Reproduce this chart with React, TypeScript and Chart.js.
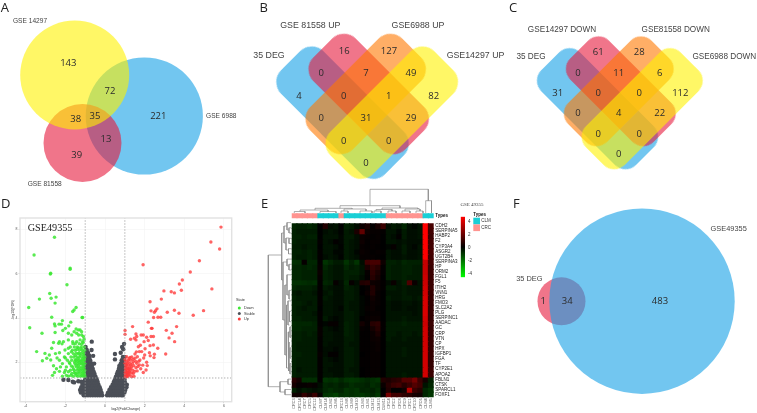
import React, { useEffect, useRef } from "react";
import { Chart, registerables } from "chart.js";
Chart.register(...registerables);

/* ---------- Venn values ---------- */
const vennACounts = [143, 72, 221, 38, 35, 13, 39];
const vennBCounts = [16, 127, 0, 7, 49, 4, 0, 1, 82, 0, 31, 29, 0, 0, 0];
const vennCCounts = [61, 28, 0, 11, 6, 31, 0, 0, 112, 0, 4, 22, 0, 0, 0];
const vennFCounts = [1, 34, 483];
const vennALabels = ["GSE 14297", "GSE 6988", "GSE 81558"];
const vennBLabels = ["GSE 81558 UP", "GSE6988 UP", "35 DEG", "GSE14297 UP"];
const vennCLabels = ["GSE14297 DOWN", "GSE81558 DOWN", "35 DEG", "GSE6988 DOWN"];
const vennFLabels = ["GSE49355", "35 DEG"];

/* ---------- Volcano values: [log2FC, -log10FDR] ---------- */
const volcanoUp: number[][] = [
  [5.85,8.11],[5.34,7.44],[5.78,7.12],[4.76,6.59],[1.92,6.41],[4.3,6.08],[3.9,5.72],[3.75,5.54],[3.85,5.26],[5.39,5.32],
  [2.97,5.23],[3.34,5.19],[3.5,5.14],[2.84,4.86],[2.27,4.74],[4.97,4.34],[4.45,4.13],[3.5,4.36],[3.14,4.27],[3.73,4.22],
  [2.32,4.33],[2.62,4.42],[2.55,4.34],[2.49,4.27],[2.67,4.04],[2.81,4.04],[2.45,4.03],[2.18,3.82],[3.61,3.62],[3.09,3.45],
  [3.38,3.32],[3.23,3.11],[3.51,2.94],[3.06,2.38],[1.01,3.44],[1.01,3.27],[1.39,3.62],[2.34,3.54],[2.37,3.54],[1.93,3.24],
  [1.82,3.24],[1.56,3.29],[1.6,3.17],[1.48,3.09],[1.29,3.05],[1.56,3.02],[2.1,3.14],[2.32,3.17],[2.44,3.17],[2.18,2.99],
  [1.97,2.94],[2.27,2.76],[2.44,2.79],[2.66,2.64],[2.49,2.37],[2.47,2.22],[2.1,2.01],[2.13,1.86],[2.07,1.66],[1.93,1.55],
  [1.68,2.71],[1.73,2.49],[1.85,2.49],[1.51,2.38],[1.26,2.23],[1.09,2.26],[1.01,2.14],[1.26,1.96],[1.43,2.04],[1.51,2.19],
  [1.63,2.26],[1.34,1.81],[1.56,1.76],[1.73,1.89],[1.18,1.73],[1.06,1.66],[1.13,1.55],[1.26,1.58],[1.06,1.43],[1.18,1.39],
  [1.34,1.36],[1.01,1.96],[1.09,1.89],[1.03,1.73],[1.18,2.11],[1.43,1.51],[1.6,1.96],[1.76,2.11],[1.05,1.8],[1.12,1.95],
  [1.2,1.85],[1.03,1.6],[1.1,1.48],[1.02,1.35],[1.25,1.45],[1.15,1.65],[1.4,1.65],[1.05,2.05],[1.3,2.1],[1.45,1.85],
  [1.5,1.6],[1.35,2.25],[1.02,1.5],[1.08,1.38],[1.16,1.47],[1.22,1.6],[1.3,1.72],
  [1.04,1.42],[1.12,1.36],[1.2,1.52],[1.07,1.55],[1.14,1.75],[1.24,1.72],[1.04,1.88],[1.16,2.02],[1.28,1.88],[1.38,1.95],
  [1.22,2.18],[1.42,2.15],[1.55,2.05],[1.66,1.82],[1.36,1.52],[1.46,1.38],[1.62,1.62],[1.8,1.72],[1.9,1.88],[1.95,2.2],
  [1.7,2.05],[1.58,2.48],[1.78,2.78],[2.02,2.62],[2.24,2.44],[2.28,2.3],[2.0,2.34],
];
const volcanoDown: number[][] = [
  [-2.55,7.65],[-3.58,6.85],[-2.74,6.03],[-2.76,5.99],[-1.76,6.26],[-1.76,6.21],[-1.92,5.51],[-2.79,5.11],[-2.47,4.95],[-2.72,4.9],
  [-3.31,4.86],[-2.52,4.68],[-3.85,4.48],[-1.46,4.48],[-1.56,4.37],[-1.63,4.3],[-2.69,4.04],[-1.13,4.03],[-1.16,4.03],[-3.8,3.57],
  [-3.18,3.32],[-2.15,3.89],[-2.55,3.74],[-2.52,3.65],[-2.32,3.73],[-2.2,3.73],[-1.73,3.82],[-1.83,3.65],[-2,3.54],[-1.46,3.51],
  [-1.34,3.47],[-1.26,3.47],[-1.18,3.39],[-1.56,3.39],[-1.43,3.32],[-1.33,3.24],[-1.18,3.24],[-1.09,3.17],[-1.68,3.24],[-1.85,3.32],
  [-2.13,3.44],[-2.52,3.35],[-2.3,2.94],[-2.1,2.94],[-2.34,2.87],[-2.17,2.84],[-1.85,3.02],[-1.63,2.94],[-1.43,2.94],[-1.26,3.02],
  [-1.13,2.94],[-1.06,3.05],[-2.6,2.9],[-2.69,2.64],[-3.45,2.49],[-3.03,2.41],[-2.81,2.34],[-3.16,2.08],[-2.94,2.19],[-2.74,2.11],
  [-2.3,2.44],[-2.02,2.56],[-1.85,2.64],
  [-1.05,2.7],[-1.2,2.7],[-1.4,2.7],[-1.55,2.7],[-1.75,2.7],
  [-1.03,2.55],[-1.15,2.55],[-1.3,2.55],[-1.5,2.55],[-1.65,2.55],
  [-1.08,2.4],[-1.22,2.4],[-1.36,2.4],[-1.6,2.4],[-1.85,2.4],
  [-1.02,2.25],[-1.12,2.25],[-1.28,2.25],[-1.42,2.25],[-1.58,2.25],[-1.72,2.25],[-2.05,2.25],
  [-1.05,2.1],[-1.18,2.1],[-1.32,2.1],[-1.46,2.1],[-1.68,2.1],[-1.9,2.1],[-2.3,2.1],
  [-1.02,1.95],[-1.1,1.95],[-1.24,1.95],[-1.38,1.95],[-1.52,1.95],[-1.78,1.95],[-2.15,1.95],
  [-1.06,1.8],[-1.16,1.8],[-1.3,1.8],[-1.44,1.8],[-1.62,1.8],[-1.95,1.8],
  [-1.03,1.65],[-1.12,1.65],[-1.26,1.65],[-1.4,1.65],[-1.55,1.65],[-1.75,1.65],[-2,1.65],
  [-1.05,1.5],[-1.18,1.5],[-1.32,1.5],[-1.5,1.5],[-1.68,1.5],
  [-1.02,1.38],[-1.1,1.38],[-1.24,1.38],[-1.38,1.38],[-1.6,1.38],[-1.85,1.38],[-2.15,1.38],
  [-1.1,2.9],[-1.3,2.85],[-1.5,2.85],[-1.2,2.62],[-1.42,2.6],[-1.08,2.33],[-1.25,2.32],[-1.5,2.32],[-1.1,2.02],[-1.3,2.02],[-1.46,1.88],[-1.1,1.72],
  [-1.3,1.58],[-1.05,1.58],[-1.18,1.42],[-1.45,1.42],[-1.06,1.44],[-1.55,1.55],[-1.8,2.0],[-2.0,2.2],[-2.45,1.72],[-2.6,1.85],
  [-1.04,1.46],[-1.14,1.56],[-1.22,1.72],[-1.36,1.72],[-1.08,1.88],[-1.18,1.94],[-1.34,1.88],[-1.22,2.06],[-1.4,2.04],[-1.04,2.16],
  [-1.14,2.18],[-1.36,2.18],[-1.5,2.12],[-1.54,2.02],[-1.6,1.7],[-1.7,1.84],[-1.85,1.58],[-1.95,1.42],[-1.72,1.42],[-1.42,1.52],
  [-1.12,2.46],[-1.3,2.42],[-1.45,2.42],[-1.7,2.48],[-1.34,2.66],[-1.18,2.82],[-1.62,2.85],[-2.42,2.2],[-2.55,1.55],[-2.3,1.6],
  [-2.65,1.42],[-2.05,1.55],[-2.25,1.8],[-2.5,2.4],
];
const volcanoStable: number[][] = [
  [-.14,.52],[-.26,.52],[-.38,.52],[-.5,.52],[-.62,.52],[-.74,.52],[-.86,.52],[-.98,.52],[-1.08,.52],
  [-.18,.64],[-.3,.64],[-.42,.64],[-.54,.64],[-.66,.64],[-.78,.64],[-.9,.64],[-1.02,.64],[-1.14,.64],[-1.22,.64],
  [-.22,.76],[-.34,.76],[-.46,.76],[-.58,.76],[-.7,.76],[-.82,.76],[-.94,.76],[-1.06,.76],[-1.18,.76],[-1.26,.76],
  [-.27,.88],[-.39,.88],[-.51,.88],[-.63,.88],[-.75,.88],[-.87,.88],[-.99,.88],[-1.11,.88],[-1.2,.88],
  [-.33,1],[-.45,1],[-.57,1],[-.69,1],[-.81,1],[-.93,1],[-1.05,1],[-1.14,1],
  [-.37,1.12],[-.49,1.12],[-.61,1.12],[-.73,1.12],[-.85,1.12],[-.97,1.12],[-1.08,1.12],
  [-.42,1.24],[-.54,1.24],[-.66,1.24],[-.78,1.24],[-.9,1.24],[-1,1.24],
  [-.48,1.36],[-.6,1.36],[-.72,1.36],[-.84,1.36],[-.96,1.36],
  [-.53,1.48],[-.65,1.48],[-.77,1.48],[-.89,1.48],[-.98,1.48],
  [-.58,1.6],[-.7,1.6],[-.82,1.6],[-.94,1.6],
  [-.62,1.72],[-.74,1.72],[-.86,1.72],[-.97,1.72],
  [-.66,1.84],[-.78,1.84],[-.9,1.84],[-.98,1.84],
  [-.7,1.96],[-.82,1.96],[-.94,1.96],
  [-.74,2.08],[-.86,2.08],[-.96,2.08],
  [-.78,2.2],[-.88,2.2],[-.97,2.2],
  [-.8,2.32],[-.9,2.32],[-.97,2.32],
  [-.86,2.44],[-.95,2.44],[-.92,2.56],[-.68,2.56],[-.98,2.7],[-.67,2.94],[-.6,2.3],[-.55,1.95],
  [-2.1,1.22],[-1.85,1.21],[-1.63,1.13],[-1.56,1.1],[-1.2,1.13],[-1.35,1.15],
  [.1,.52],[.22,.52],[.34,.52],[.46,.52],[.58,.52],[.7,.52],[.82,.52],[.9,.52],
  [.15,.64],[.27,.64],[.39,.64],[.51,.64],[.63,.64],[.75,.64],[.87,.64],[.98,.64],
  [.22,.76],[.34,.76],[.46,.76],[.58,.76],[.7,.76],[.82,.76],[.94,.76],[1.02,.76],
  [.3,.88],[.42,.88],[.54,.88],[.66,.88],[.78,.88],[.9,.88],[1,.88],[1.08,.88],
  [.38,1],[.5,1],[.62,1],[.74,1],[.86,1],[.98,1],[1.1,1],
  [.44,1.12],[.56,1.12],[.68,1.12],[.8,1.12],[.92,1.12],[1,1.12],
  [.5,1.24],[.62,1.24],[.74,1.24],[.86,1.24],[.98,1.24],
  [.55,1.36],[.67,1.36],[.79,1.36],[.91,1.36],[.99,1.36],
  [.6,1.48],[.72,1.48],[.84,1.48],[.96,1.48],
  [.65,1.6],[.77,1.6],[.89,1.6],[.98,1.6],
  [.7,1.72],[.82,1.72],[.94,1.72],
  [.72,1.84],[.86,1.84],[.97,1.84],
  [.8,1.96],[.92,1.96],[.84,2.1],[.95,2.1],[.9,2.25],[.98,2.25],
  [.5,2.38],[.79,2.44],[.86,2.7],[.96,2.84],[.5,2.14],[.92,2.6],
];
const volcanoXTicks = [-4, -2, 0, 2, 4, 6];
const volcanoYTicks = [2, 4, 6, 8];
const volcanoCutX = [-1, 1];
const volcanoCutY = 1.3;
const volcanoStates = ["Down", "Stable", "Up"];

/* ---------- Heat map values ---------- */
const sampleNames = ["CRC3","CRC14","CRC7","CRC5","CRC12","CLM7","CLM14","CLM2","CLM6","CRC13","CLM8","CLM9","CLM10","CLM3","CLM1","CLM12","CLM13","CLM11","CRC4","CRC2","CRC8","CRC9","CRC1","CRC10","CRC6","CLM4","CLM5"];
const geneNames = ["CDH2","SERPINA5","HABP2","F2","CYP3A4","ASGR2","UGT2B4","SERPINA3","HP","ORM2","FGL1","F5","ITIH2","VNN1","HRG","FMO3","SLC2A2","PLG","SERPINC1","AADAC","GC","CRP","VTN","CP","HPX","IGFBP1","FGA","TF","CYP2E1","APOA2","FBLN1","CTSK","SPARCL1","FOXF1"];
const expression: number[][] = [
  [-.6,-.5,-.5,-.6,-.5, 0,.5,-.2,-.3, 0, -.5,-.4,-.2,.2,.4,.05,.35,.9, -.2,-.4,-.3,-.6,-.2,-.1,-.3, 4,1.1],
  [-.5,-.4,-.4,-.4,-.4, 0,-.2,-.3,-.2, -.05, -.4,-.3,.4,1.5,.2,.1,.1,.05, -.3,-.3,-.1,-.4,-.2,-.2,-.3, 4,1],
  [-.5,-.5,-.4,-.5,-.5, 0,-.3,-.3,-.3, -.1, -.4,-.4,-.2,.15,.1,.05,.1,0, -.3,-.2,.05,-.4,-.2,-.2,-.3, 4,.9],
  [-.5,-.4,-.4,-.4,-.4, .05,-.3,-.2,.05, -.1, -.4,-.3,-.2,.2,.05,.1,.1,0, -.3,-.3,-.2,-.3,-.2,-.2,-.2, 4,1],
  [-.4,-.4,-.3,-.4,-.4, 0,-.3,-.3,-.2, -.05, -.4,-.3,-.2,.1,.05,.1,.05,0, -.1,.1,-.2,-.4,-.2,-.1,-.3, 4,1],
  [-.5,-.5,-.4,-.5,-.4, .05,-.3,-.3,-.1, -.1, -.4,-.3,-.1,.15,.1,.05,.1,.05, -.3,-.2,-.2,-.4,-.2,-.2,-.3, 4,1.1],
  [-.5,-.4,-.4,-.5,-.4, .05,-.2,-.3,-.2, -.05, -.4,-.3,-.2,.1,.1,.1,.05,0, -.3,-.2,-.2,-.3,-.2,-.2,-.3, 4,1],
  [-.75,-.7,.1,-.6,-.6, .05,-.8,-.6,-.4, -.4, -.8,-.5,-.8,-.2,1,1.1,1.1,.2, -.5,-.5,-.4,-.6,-.5,-.5,-.5, 3.1,1],
  [-.6,-.6,-.5,-.6,-.5, .1,-.6,-.4,-.3, -.3, -.6,-.4,-.5,-.3,.4,.8,.6,.05, -.5,-.4,-.4,-.5,-.5,-.4,-.4, 3.1,.9],
  [-.6,-.6,-.5,-.5,-.5, .15,-.5,-.4,-.3, -.3, -.5,-.5,-.5,-.3,.1,.7,.4,.05, -.5,-.4,-.4,-.5,-.5,-.4,-.4, 3.1,.9],
  [-.6,-.6,-.5,-.5,-.5, .1,-.5,-.4,-.3, -.3, -.5,-.4,-.4,-.2,.05,.6,.3,0, -.5,-.4,-.4,-.5,-.4,-.4,-.4, 3.2,.9],
  [-.75,-.75,-.7,-.65,-.7, .05,-.6,-.5,.1, -.2, -.6,.1,-.2,.5,.6,.2,.15,.05, -.2,.15,-.3,-.5,1.2,.15,-.3, 3.2,.9],
  [-.6,-.5,-.5,-.5,-.4, .05,-.4,-.3,-.2, -.2, -.5,-.4,-.3,0,.1,.5,.15,.05, -.4,-.4,-.3,-.4,-.3,-.3,-.3, 3.3,.9],
  [-.4,-.3,-.4,-.4,-.3, .05,-.3,-.4,-.2, -.2, -.4,-.4,-.3,0,.15,.5,.1,0, -.3,-.3,-.3,-.4,-.3,-.3,-.3, 3.3,.8],
  [-.5,-.4,-.4,-.4,-.4, .05,-.4,-.3,-.2, -.2, -.4,-.4,-.3,-.1,.05,.25,.1,0, -.4,-.3,-.3,-.4,-.4,-.3,-.4, 3.4,.8],
  [-.5,-.5,-.4,-.3,-.4, .05,-.3,-.3,-.2, -.2, -.4,-.3,-.3,-.1,.05,.15,.1,0, -.3,-.2,-.2,-.3,-.3,-.2,-.3, 3.4,.8],
  [-.5,-.4,-.3,-.4,-.4, 0,-.3,-.3,-.2, -.1, -.4,-.3,-.3,-.1,.1,.15,.05,0, -.3,-.2,-.2,-.3,-.2,-.2,-.3, 3.4,.8],
  [-.5,-.4,-.4,-.4,-.3, .05,-.3,-.3,-.2, -.2, -.4,-.4,-.3,-.1,.05,.1,.1,0, -.3,-.3,-.3,-.3,-.3,-.2,-.3, 3.4,.8],
  [-.5,-.5,-.4,-.4,-.4, .05,-.4,-.2,-.1, -.2, -.4,-.4,-.3,0,.1,.15,.15,0, -.3,-.3,-.3,-.4,-.3,-.3,-.3, 3.3,.8],
  [-.65,-.6,-.6,-.6,-.5, .05,-.1,.1,.1, -.2, -.5,-.4,-.3,.3,.1,.6,.7,.05, -.4,-.4,-.4,-.5,-.4,-.4,-.4, 3.2,.9],
  [-.6,-.6,-.5,-.5,-.5, .1,-.3,-.2,-.1, -.2, -.5,-.4,-.3,.1,.05,.3,.6,.05, -.4,-.4,-.4,-.4,-.4,-.4,-.4, 3.3,.8],
  [-.5,-.5,-.4,-.5,-.4, .1,-.3,-.3,-.2, -.2, -.5,-.4,-.3,.05,.05,.15,.4,0, -.4,-.4,-.3,-.4,-.4,-.3,-.4, 3.3,.8],
  [-.5,-.5,-.4,-.4,-.4, .05,-.3,-.3,-.2, -.2, -.4,-.4,-.3,.05,.05,.15,.2,0, -.4,-.3,-.3,-.4,-.3,-.3,-.3, 3.3,.8],
  [-.5,-.4,-.4,-.4,-.4, .05,-.3,-.2,-.2, -.2, -.4,-.3,-.3,.05,.05,.1,.15,0, -.3,-.3,-.3,-.3,-.3,-.3,-.3, 3.3,.8],
  [-.5,-.4,-.4,-.4,-.4, .05,-.2,-.2,-.1, -.2, -.4,-.4,-.3,.05,.05,.1,.15,0, -.3,-.3,-.3,-.4,-.3,-.3,-.3, 3.3,.8],
  [-.5,-.5,-.4,-.4,-.4, .1,-.2,.05,.05, -.2, -.4,-.4,-.3,0,.05,.1,.1,0, -.3,-.3,-.3,-.4,-.3,-.3,-.3, 3.3,.8],
  [-.5,-.4,-.4,-.4,-.4, .05,-.3,-.2,-.1, -.2, -.4,-.4,-.3,.05,.05,.1,.1,0, -.3,-.3,-.3,-.3,-.3,-.3,-.3, 3.3,.8],
  [-.5,-.4,-.4,-.4,-.4, .05,-.3,-.3,-.2, -.2, -.4,-.4,-.3,.05,.05,.1,.1,0, -.3,-.3,-.3,-.3,-.3,-.3,-.3, 3.3,.8],
  [-.5,-.3,-.4,-.4,-.4, .05,-.3,-.2,-.2, -.2, -.4,-.3,-.3,0,.05,.1,.1,0, -.3,-.3,-.3,-.3,-.3,-.3,-.3, 3.3,.9],
  [-.5,-.4,-.4,-.4,-.4, .05,-.3,-.3,-.2, -.2, -.4,-.4,-.3,0,.05,.1,.1,0, -.3,-.3,-.3,-.4,-.3,-.3,-.3, 3.3,.9],
  [.6,.3,-.7,-.7,-.7, .05,-.8,-.7,-.8, -.6, -.8,-.85,-.8,-.7,-.6,-.7,-.8,.5, .4,.6,.7,1.3,1.3,1.8,.9, .3,-.5],
  [.35,.1,.1,.15,.1, -.2,-.6,-.5,-.6, -.45, -.55,-.7,-.6,-.6,-.5,-.7,-.6,.15, .6,.9,1.05,.6,.9,1.3,1, -.3,-.6],
  [-.5,-.2,-.4,-.3,-.2, -.3,-.6,-.7,-.6, -.55, -.8,-.7,-.8,-.55,-.6,-.5,-.7,0, .5,0,0,.25,2.8,.9,.6, -.6,-.8],
  [.25,.25,.8,.4,.9, .1,-.8,-.85,-1, -.7, -.8,-.7,-.8,-.85,-.7,-.6,-.85,.05, 1.8,1,1,.7,.6,.35,.25, -.6,-.85],
];
const colourBarRange = [-4.6, 4.76];
const colourBarTicks = [-4, -2, 0, 2, 4];
const typeNames = ["CLM", "CRC"];

/* ---------- Styles and layout ---------- */
const BLUE = "rgba(20,160,230,.6)";
const YELLOW = "rgba(255,242,0,.6)";
const RED = "rgba(230,25,60,.6)";
const ORANGE = "rgba(255,120,0,.6)";
const NUM = '9.5px "Open Sans"';
const LETTER = '13px "Open Sans"';
const CYAN_T = "#19CFD6";
const PINK_T = "#FF9490";

const txt = (chart: any, s: any, x: number, y: number, font: string, color = "#333", align: any = "center") => {
  const c = chart.ctx;
  const px = chart.scales.x.getPixelForValue(x);
  const py = chart.scales.y.getPixelForValue(y);
  c.save();
  c.font = font; c.fillStyle = color; c.textAlign = align; c.textBaseline = "middle";
  c.fillText(String(s), px, py);
  c.restore();
};

const pageScales = (l: number, t: number, w: number, h: number) => ({
  x: { type: "linear", display: false, min: l, max: l + w },
  y: { type: "linear", display: false, reverse: true, min: t, max: t + h },
});

const shapeImage = (len: number, wid: number, rad: number, color: string) => {
  const cv = document.createElement("canvas");
  cv.width = Math.round(len); cv.height = Math.round(wid);
  const g = cv.getContext("2d")!;
  g.fillStyle = color;
  g.beginPath();
  g.roundRect(0, 0, cv.width, cv.height, rad);
  g.fill();
  return cv;
};

type Spec = { left: number; top: number; width: number; height: number; blur?: boolean; build: (c: HTMLCanvasElement, s: Spec) => Chart };

const base = { responsive: false, animation: false, events: [], plugins: { legend: { display: false }, tooltip: { enabled: false } } } as any;

const vennChart = (opts: { circles?: number[][]; colours?: string[]; shapes?: any[]; counts: number[]; countPos: number[][]; labels: string[]; labelPos: number[][]; labelFont: string; letter: string; letterPos: number[] }) =>
  (canvas: HTMLCanvasElement, s: Spec) => {
    const datasets: any[] = [];
    (opts.circles || []).forEach((c, i) => datasets.push({ type: "bubble", data: [{ x: c[0], y: c[1], r: c[2] }], backgroundColor: opts.colours![i], borderWidth: 0, clip: false }));
    (opts.shapes || []).forEach((sh) => datasets.push({ type: "scatter", data: [{ x: sh.x, y: sh.y }], pointStyle: shapeImage(sh.l, sh.w, sh.r, sh.c), pointRotation: sh.a, pointRadius: 1, clip: false }));
    return new Chart(canvas, {
      type: "scatter",
      data: { datasets },
      options: { ...base, scales: pageScales(s.left, s.top, s.width, s.height), layout: { padding: 0, autoPadding: false } },
      plugins: [{
        id: "vennText",
        afterDatasetsDraw(chart: any) {
          opts.counts.forEach((n, i) => txt(chart, n, opts.countPos[i][0], opts.countPos[i][1], NUM, "#2b2b2b"));
          opts.labels.forEach((n, i) => txt(chart, n, opts.labelPos[i][0], opts.labelPos[i][1], opts.labelFont, "#444"));
          txt(chart, opts.letter, opts.letterPos[0], opts.letterPos[1], LETTER, "#222", "left");
        },
      }],
    } as any);
  };

const toPts = (a: number[][]) => a.map((p) => ({ x: p[0], y: p[1] }));

const volcano = (canvas: HTMLCanvasElement, s: Spec) => {
  const xMin = -4.29, xMax = 6.39, yMin = 0.23, yMax = 8.52;
  const cut = (pts: any[]) => ({ type: "scatter", data: pts, showLine: true, pointRadius: 0, borderColor: "#9a9a9a", borderWidth: 0.8, borderDash: [1.4, 1.6] });
  return new Chart(canvas, {
    type: "scatter",
    data: {
      datasets: [
        cut([{ x: volcanoCutX[0], y: yMin }, { x: volcanoCutX[0], y: yMax }]),
        cut([{ x: volcanoCutX[1], y: yMin }, { x: volcanoCutX[1], y: yMax }]),
        cut([{ x: xMin, y: volcanoCutY }, { x: xMax, y: volcanoCutY }]),
        { data: toPts(volcanoUp), backgroundColor: "rgba(255,60,60,.8)", pointRadius: 1.7, borderWidth: 0 },
        { data: toPts(volcanoDown), backgroundColor: "rgba(60,232,50,.85)", pointRadius: 1.7, borderWidth: 0 },
        { data: toPts(volcanoStable), backgroundColor: "#4B4F57", pointRadius: 2.2, borderWidth: 0 },
      ],
    },
    options: {
      ...base,
      layout: { padding: { left: 11, top: 218 - s.top, right: 30.3, bottom: 1.5 }, autoPadding: false },
      scales: {
        x: {
          type: "linear", min: xMin, max: xMax,
          afterBuildTicks: (a: any) => { a.ticks = volcanoXTicks.map((value) => ({ value })); },
          afterFit: (a: any) => { a.height = 9.8; },
          grid: { color: "#f1f1f1", lineWidth: 0.5, tickLength: 1.5, tickColor: "#aaa" },
          border: { display: false },
          ticks: { font: { size: 3.5 }, color: "#555", padding: 1, maxRotation: 0, autoSkip: false },
          title: { display: true, text: "log2(FoldChange)", font: { size: 3.6 }, color: "#333", padding: 0 },
        },
        y: {
          type: "linear", min: yMin, max: yMax,
          afterBuildTicks: (a: any) => { a.ticks = volcanoYTicks.map((value) => ({ value })); },
          afterFit: (a: any) => { a.width = 9; },
          grid: { color: "#f1f1f1", lineWidth: 0.5, tickLength: 1.5, tickColor: "#aaa" },
          border: { display: false },
          ticks: { font: { size: 3.5 }, color: "#555", padding: 1, autoSkip: false },
          title: { display: true, text: "-log10(FDR)", font: { size: 3.6 }, color: "#333", padding: 0 },
        },
      },
    },
    plugins: [{
      id: "volcanoDeco",
      afterDatasetsDraw(chart: any) {
        const c = chart.ctx, a = chart.chartArea;
        c.save(); c.strokeStyle = "#e2e2e2"; c.lineWidth = 1.4; c.strokeRect(a.left, a.top, a.right - a.left, a.bottom - a.top);
        c.font = '10.2px "Liberation Serif"'; c.fillStyle = "#222"; c.textBaseline = "middle"; c.textAlign = "left";
        c.fillText("GSE49355", 27.7, 228.5 - s.top);
        c.font = "3.8px Liberation Sans"; c.fillStyle = "#333";
        c.fillText("State", 236, 300 - s.top);
        const col = ["#3CE832", "#4B4F57", "#FF3C3C"];
        volcanoStates.forEach((st, i) => {
          const y = 308 + i * 5.5 - s.top;
          c.fillStyle = col[i]; c.beginPath(); c.arc(239.3, y, 1.5, 0, 7); c.fill();
          c.fillStyle = "#333"; c.fillText(st, 244, y);
        });
        c.font = '13px "Open Sans"'; c.fillStyle = "#222"; c.fillText("D", 1, 204 - s.top);
        c.restore();
      },
    }],
  } as any);
};

const heatColour = (v: number) => {
  const m = Math.min(255, Math.round((Math.abs(v) / 4) * 255));
  return v >= 0 ? `rgb(${m},0,0)` : `rgb(0,${m},0)`;
};

const heatmap = (canvas: HTMLCanvasElement, s: Spec) =>
  new Chart(canvas, {
    type: "bar",
    data: {
      labels: sampleNames,
      datasets: expression.map((row, i) => ({
        label: geneNames[i],
        data: row.map(() => 1),
        backgroundColor: row.map(heatColour),
        borderWidth: 0, barPercentage: 1, categoryPercentage: 1, inflateAmount: 0.6,
      })),
    },
    options: {
      ...base,
      layout: { padding: { left: 0.7, top: 1 }, autoPadding: false },
      scales: {
        x: {
          stacked: true, grid: { display: false, drawTicks: false }, border: { display: false },
          afterFit: (a: any) => { a.height = 15.7; },
          ticks: { autoSkip: false, minRotation: 90, maxRotation: 90, font: { size: 3.8 }, color: "#555", padding: 1 },
        },
        y: {
          stacked: true, position: "right", reverse: true, min: 0, max: geneNames.length,
          grid: { display: false, drawTicks: false }, border: { display: false },
          afterFit: (a: any) => { a.width = s.width - 0.7 - 142; },
          afterBuildTicks: (a: any) => { a.ticks = geneNames.map((_, i) => ({ value: i + 0.5 })); },
          ticks: { autoSkip: false, font: { size: 4.5 }, color: "#222", padding: 1.6, callback: (v: number) => geneNames[Math.floor(v)] },
        },
      },
    },
  } as any);

const annotation = (canvas: HTMLCanvasElement, s: Spec) =>
  new Chart(canvas, {
    type: "bar",
    data: {
      labels: sampleNames,
      datasets: [{
        data: sampleNames.map(() => 1),
        backgroundColor: sampleNames.map((n) => (n.startsWith(typeNames[0]) ? CYAN_T : PINK_T)),
        borderWidth: 0, barPercentage: 1, categoryPercentage: 1, inflateAmount: 0.6,
      }],
    },
    options: {
      ...base,
      layout: { padding: { left: 0.7, top: 1.3, right: s.width - 142.7, bottom: 0.7 }, autoPadding: false },
      scales: { x: { display: false }, y: { display: false, min: 0, max: 1 } },
    },
  } as any);

const colourBar = (canvas: HTMLCanvasElement, s: Spec) =>
  new Chart(canvas, {
    type: "bar",
    data: {
      labels: [""],
      datasets: [{
        data: [colourBarRange],
        barPercentage: 1, categoryPercentage: 1, borderWidth: 0, borderSkipped: false,
        backgroundColor: (ctx: any) => {
          const a = ctx.chart.chartArea;
          if (!a) return "#000";
          const g = ctx.chart.ctx.createLinearGradient(0, a.top, 0, a.bottom);
          g.addColorStop(0, "#ff0000");
          g.addColorStop(0.5, "#000000");
          g.addColorStop(1, "#00ff00");
          return g;
        },
      }],
    },
    options: {
      ...base,
      layout: { padding: { left: 5.7, top: 2.3, bottom: 3 }, autoPadding: false },
      scales: {
        x: { display: false },
        y: {
          position: "right", min: colourBarRange[0], max: colourBarRange[1],
          grid: { display: false, drawTicks: false }, border: { display: false },
          afterFit: (a: any) => { a.width = s.width - 5.7 - 4.3; },
          afterBuildTicks: (a: any) => { a.ticks = colourBarTicks.map((value) => ({ value })); },
          ticks: { font: { size: 4.5 }, color: "#333", padding: 3 },
        },
      },
    },
  } as any);

/* dendrogram brackets: left tree [xv, ya, yb, xa, xb], top tree [yh, xa, xb, ya, yb] */
const leftTree = [
  [268.3,255,386.7,281.7,280],[280,381.7,392,288,285],[288,379.1,384.3,291,291],[285,389.5,394.7,291,291],
  [281.7,233,280,284,283],[284,226,243,287,286],[287,222.6,230,291,289],[289,227.8,233,291,291],[286,238,250,289,288.5],
  [289,238.3,243.5,291,291],[288.5,248.7,253.9,291,291],[283,262,320,287,285],[287,259.1,266,291,289],[289,264.3,270,291,291],
  [285,285,355,287,286.5],[287,274.8,295,291,289],[289,290.4,299,291,290],[286.5,305,368,288,288],[288,300.9,325,291,289.5],
  [289.5,311.3,321.7,291,291],[288,332,371,290,289],[290,326.9,337.4,291,291],[289,342.6,371,290,290],[290,347.8,358.2,291,291],[290,363.5,373.9,291,291],
];
const topTree = [
  [189.3,370,428.3,205.7,200.7],[200.7,425.7,431.5,213,213],[205.7,340,400,208.3,208],[208.3,315,352,210,209],[210,300,328,211.5,211.5],
  [211.5,294.3,305,213,213],[211.5,320,336,213,213],[209,344,366,211,211],[211,341,348,213,213],[211,360,372,213,213],
  [208,382,418,209.5,209],[209.5,376,392,211,211],[211,374,381,213,213],[211,388,396,213,213],[209,405,420,211,211],[211,402,410,213,213],[211,416,423,213,213],
];

const overlayE = (canvas: HTMLCanvasElement, s: Spec) => {
  const gap = { x: NaN, y: NaN };
  const lp: any[] = [], tp: any[] = [];
  leftTree.forEach(([xv, ya, yb, xa, xb]) => lp.push({ x: xa, y: ya }, { x: xv, y: ya }, { x: xv, y: yb }, { x: xb, y: yb }, gap));
  topTree.forEach(([yh, xa, xb, ya, yb]) => tp.push({ x: xa, y: ya }, { x: xa, y: yh }, { x: xb, y: yh }, { x: xb, y: yb }, gap));
  const line = (data: any[]) => ({ data, showLine: true, pointRadius: 0, borderColor: "#8c8c8c", borderWidth: 0.7, tension: 0 });
  return new Chart(canvas, {
    type: "scatter",
    data: { datasets: [line(lp), line(tp)] },
    options: { ...base, layout: { autoPadding: false }, scales: pageScales(s.left, s.top, s.width, s.height) },
    plugins: [{
      id: "eText",
      afterDatasetsDraw(chart: any) {
        const x = chart.scales.x, y = chart.scales.y, c = chart.ctx;
        txt(chart, "E", 261, 204, LETTER, "#222", "left");
        txt(chart, "GSE 49355", 472, 205, '5px "Liberation Serif"', "#444");
        txt(chart, "Types", 435.3, 216, 'bold 4.5px "Liberation Sans"', "#111", "left");
        txt(chart, "Types", 473.3, 214.6, 'bold 4.5px "Liberation Sans"', "#111", "left");
        c.fillStyle = CYAN_T; c.fillRect(x.getPixelForValue(473.3), y.getPixelForValue(217.7), 6.7, 6.7);
        c.fillStyle = PINK_T; c.fillRect(x.getPixelForValue(473.3), y.getPixelForValue(224.4), 6.7, 6.7);
        txt(chart, typeNames[0], 481.3, 221, '4.5px "Liberation Sans"', "#333", "left");
        txt(chart, typeNames[1], 481.3, 227.7, '4.5px "Liberation Sans"', "#333", "left");
      },
    }],
  } as any);
};

const specs: Spec[] = [
  {
    left: 0, top: 0, width: 250, height: 195,
    build: vennChart({
      circles: [[74.7, 75, 54.5], [82.5, 143, 39], [144.3, 116, 58.6]],
      colours: [YELLOW, RED, BLUE],
      counts: vennACounts,
      countPos: [[68.3, 63.7], [110, 91], [158.3, 116.3], [75.7, 119.3], [95, 116.3], [106, 139], [76.7, 155.7]],
      labels: vennALabels,
      labelPos: [[30, 20.7], [221.3, 115.7], [44.7, 184]],
      labelFont: '6.6px "Liberation Sans"',
      letter: "A", letterPos: [0.7, 8],
    }),
  },
  {
    left: 250, top: 0, width: 260, height: 195,
    build: vennChart({
      shapes: [
        { x: 391.8, y: 112.7, l: 147, w: 60, r: 16.7, a: -45, c: YELLOW },
        { x: 365.7, y: 94, l: 130, w: 60, r: 16.7, a: -45, c: ORANGE },
        { x: 368.7, y: 94, l: 130, w: 60, r: 16.7, a: 45, c: RED },
        { x: 342.5, y: 112.7, l: 147, w: 60, r: 16.7, a: 45, c: BLUE },
      ],
      counts: vennBCounts,
      countPos: [[344.3, 51], [389, 51], [321.3, 73.7], [366, 73.7], [411, 73.7], [299, 96.3], [343.7, 96.3], [388.7, 96.3], [433.7, 96.3], [321.3, 118.7], [366, 118.7], [411, 118.7], [343.7, 141], [388.7, 141], [366, 163.7]],
      labels: vennBLabels,
      labelPos: [[310.3, 26], [418, 26], [269, 55.3], [475.5, 55.3]],
      labelFont: '8.8px "Liberation Sans"',
      letter: "B", letterPos: [259.5, 8],
    }),
  },
  {
    left: 505, top: 0, width: 252, height: 195,
    build: vennChart({
      shapes: [
        { x: 642.2, y: 108.7, l: 134, w: 55, r: 15, a: -45, c: YELLOW },
        { x: 618.8, y: 91.3, l: 118, w: 55, r: 15, a: -45, c: ORANGE },
        { x: 620.8, y: 91.3, l: 118, w: 55, r: 15, a: 45, c: RED },
        { x: 597.5, y: 108.7, l: 134, w: 55, r: 15, a: 45, c: BLUE },
      ],
      counts: vennCCounts,
      countPos: [[598.3, 52.3], [639.3, 52.3], [578, 73], [618.7, 73], [659.7, 73], [557.7, 93.3], [598.3, 93.3], [639.3, 93.3], [680.3, 93.3], [578, 113.7], [618.7, 113.7], [659.7, 113.7], [598.3, 134], [639.3, 134], [618.7, 154.3]],
      labels: vennCLabels,
      labelPos: [[562, 29.3], [675.7, 29.3], [531, 56.3], [724.3, 56.3]],
      labelFont: '8.2px "Liberation Sans"',
      letter: "C", letterPos: [509, 8],
    }),
  },
  { left: 0, top: 190, width: 262, height: 223, blur: true, build: volcano },
  { left: 291, top: 219, width: 185, height: 194, blur: true, build: heatmap },
  { left: 291, top: 212, width: 146, height: 7, blur: true, build: annotation },
  { left: 455, top: 211, width: 24, height: 72, blur: true, build: colourBar },
  { left: 258, top: 185, width: 242, height: 228, blur: true, build: overlayE },
  {
    left: 505, top: 190, width: 252, height: 223,
    build: vennChart({
      circles: [[642, 301.2, 92.7], [561.5, 301.3, 24]],
      colours: [BLUE, RED],
      counts: vennFCounts,
      countPos: [[543.3, 301.7], [567.3, 301.7], [660, 301.7]],
      labels: vennFLabels,
      labelPos: [[728.7, 229], [529.3, 278.7]],
      labelFont: '7.4px "Liberation Sans"',
      letter: "F", letterPos: [513, 204],
    }),
  },
];

function Panel({ spec }: { spec: Spec }) {
  const ref = useRef<HTMLCanvasElement>(null);
  useEffect(() => {
    const chart = spec.build(ref.current!, spec);
    return () => chart.destroy();
  }, [spec]);
  return (
    <canvas
      ref={ref}
      width={spec.width}
      height={spec.height}
      style={{
        position: "absolute", left: spec.left, top: spec.top, width: spec.width, height: spec.height,
        filter: spec.blur ? "blur(0.35px)" : undefined,
      }}
    />
  );
}

export default function App() {
  return (
    <div style={{ position: "absolute", left: 0, top: 0, width: 757, height: 413, overflow: "hidden", background: "#fff" }}>
      {specs.map((s, i) => <Panel key={i} spec={s} />)}
    </div>
  );
}
